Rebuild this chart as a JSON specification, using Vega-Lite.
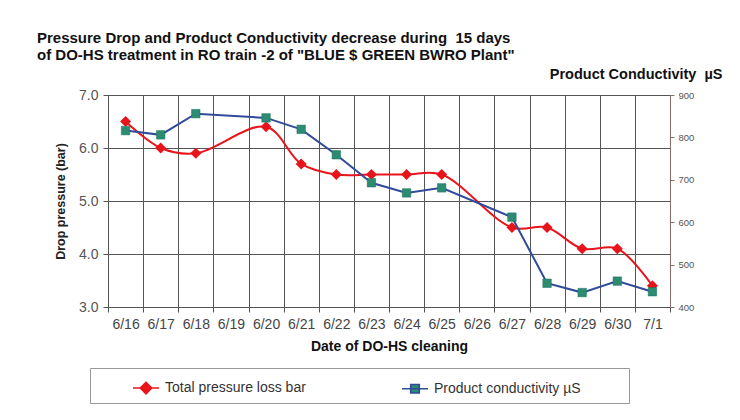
{
  "$schema": "https://vega.github.io/schema/vega-lite/v6.json",
  "width": 562,
  "height": 212,
  "autosize": "none",
  "padding": {"left": 108, "top": 95, "right": 70, "bottom": 113},
  "background": "white",
  "config": {"font": "Liberation Sans", "view": {"stroke": null}},
  "title": {
    "text": ["Pressure Drop and Product Conductivity decrease during \u00a015 days", "of DO-HS treatment in RO train -2 of \"BLUE $ GREEN BWRO Plant\""],
    "anchor": "start",
    "frame": "group",
    "dx": -71,
    "dy": 1,
    "offset": 4,
    "fontSize": 15,
    "lineHeight": 17,
    "fontWeight": "bold",
    "color": "#111"
  },
  "data": {
    "values": [
      {"date": "6/16", "series": "Total pressure loss bar", "value": 6.5},
      {"date": "6/17", "series": "Total pressure loss bar", "value": 6.0},
      {"date": "6/18", "series": "Total pressure loss bar", "value": 5.9},
      {"date": "6/20", "series": "Total pressure loss bar", "value": 6.4},
      {"date": "6/21", "series": "Total pressure loss bar", "value": 5.7},
      {"date": "6/22", "series": "Total pressure loss bar", "value": 5.5},
      {"date": "6/23", "series": "Total pressure loss bar", "value": 5.5},
      {"date": "6/24", "series": "Total pressure loss bar", "value": 5.5},
      {"date": "6/25", "series": "Total pressure loss bar", "value": 5.5},
      {"date": "6/27", "series": "Total pressure loss bar", "value": 4.5},
      {"date": "6/28", "series": "Total pressure loss bar", "value": 4.5},
      {"date": "6/29", "series": "Total pressure loss bar", "value": 4.1},
      {"date": "6/30", "series": "Total pressure loss bar", "value": 4.1},
      {"date": "7/1", "series": "Total pressure loss bar", "value": 3.4},
      {"date": "6/16", "series": "Product conductivity µS", "value": 816},
      {"date": "6/17", "series": "Product conductivity µS", "value": 806},
      {"date": "6/18", "series": "Product conductivity µS", "value": 856},
      {"date": "6/20", "series": "Product conductivity µS", "value": 846},
      {"date": "6/21", "series": "Product conductivity µS", "value": 819},
      {"date": "6/22", "series": "Product conductivity µS", "value": 759},
      {"date": "6/23", "series": "Product conductivity µS", "value": 693},
      {"date": "6/24", "series": "Product conductivity µS", "value": 669},
      {"date": "6/25", "series": "Product conductivity µS", "value": 681},
      {"date": "6/27", "series": "Product conductivity µS", "value": 612},
      {"date": "6/28", "series": "Product conductivity µS", "value": 456},
      {"date": "6/29", "series": "Product conductivity µS", "value": 434},
      {"date": "6/30", "series": "Product conductivity µS", "value": 461},
      {"date": "7/1", "series": "Product conductivity µS", "value": 436}
    ]
  },
  "encoding": {
    "x": {
      "field": "date",
      "type": "ordinal",
      "scale": {
        "type": "band",
        "domain": ["6/16", "6/17", "6/18", "6/19", "6/20", "6/21", "6/22", "6/23", "6/24", "6/25", "6/26", "6/27", "6/28", "6/29", "6/30", "7/1"],
        "paddingInner": 0,
        "paddingOuter": 0
      },
      "axis": {
        "tickBand": "extent",
        "grid": true,
        "gridColor": "#555",
        "gridWidth": 1,
        "domainColor": "#555",
        "tickColor": "#555",
        "tickSize": 5,
        "labelAngle": 0,
        "labelFontSize": 14,
        "labelColor": "#444",
        "labelPadding": 5,
        "title": "Date of DO-HS cleaning",
        "titleFontSize": 14,
        "titleFontWeight": "bold",
        "titleColor": "#111",
        "titlePadding": 8
      }
    }
  },
  "layer": [
    {
      "transform": [{"filter": "datum.series === 'Total pressure loss bar'"}],
      "encoding": {
        "y": {
          "field": "value",
          "type": "quantitative",
          "scale": {"domain": [3, 7], "nice": false, "zero": false},
          "axis": {
            "orient": "left",
            "values": [3, 4, 5, 6, 7],
            "format": ".1f",
            "grid": true,
            "gridColor": "#555",
            "domainColor": "#555",
            "tickColor": "#555",
            "tickSize": 5,
            "labelPadding": 5,
            "labelFontSize": 14,
            "labelColor": "#555",
            "title": "Drop pressure (bar)",
            "titleFontSize": 12.5,
            "titleFontWeight": "bold",
            "titleColor": "#222",
            "titlePadding": 11
          }
        }
      },
      "layer": [
        {
          "mark": {"type": "line", "interpolate": "catmull-rom", "strokeWidth": 2},
          "encoding": {
            "color": {
              "field": "series",
              "type": "nominal",
              "scale": {"domain": ["Total pressure loss bar", "Product conductivity µS"], "range": ["#e8141b", "#2f4b9a"]},
              "legend": {
                "orient": "none",
                "legendX": -18,
                "legendY": 273,
                "direction": "horizontal",
                "title": "\u00a0",
                "titleOrient": "right",
                "titlePadding": 42,
                "titleFontSize": 14,
                "strokeColor": "#999",
                "padding": 6,
                "symbolSize": 676,
                "symbolStrokeWidth": 1.6,
                "symbolOffset": 36,
                "labelOffset": 5,
                "labelFontSize": 14,
                "labelColor": "#333",
                "labelLimit": 400,
                "columnPadding": 59,
                "encode": {
                  "symbols": {
                    "update": {
                      "shape": {"signal": "datum.value === 'Total pressure loss bar' ? 'M-1,0L1,0M0,-0.44L0.44,0L0,0.44L-0.44,0Z' : 'M-1,0L1,0M-0.33,-0.33L0.33,-0.33L0.33,0.33L-0.33,0.33Z'"},
                      "fill": {"signal": "datum.value === 'Total pressure loss bar' ? '#e8141b' : '#2b8c72'"}
                    }
                  }
                }
              }
            }
          }
        },
        {
          "mark": {"type": "point", "shape": "diamond", "filled": true, "size": 120, "color": "#e8141b", "opacity": 1}
        }
      ]
    },
    {
      "transform": [{"filter": "datum.series === 'Product conductivity µS'"}],
      "encoding": {
        "y": {
          "field": "value",
          "type": "quantitative",
          "scale": {"domain": [400, 900], "nice": false, "zero": false},
          "axis": {
            "orient": "right",
            "values": [400, 500, 600, 700, 800, 900],
            "grid": false,
            "domainColor": "#8a6b6b",
            "tickColor": "#8a6b6b",
            "tickSize": 4,
            "labelPadding": 4,
            "labelFontSize": 9.5,
            "labelColor": "#555",
            "title": "Product Conductivity \u00a0µS",
            "titleAngle": 0,
            "titleAlign": "right",
            "titleBaseline": "middle",
            "titleX": 52,
            "titleY": -21,
            "titleFontSize": 14.5,
            "titleFontWeight": "bold",
            "titleColor": "#111"
          }
        }
      },
      "layer": [
        {
          "mark": {"type": "line", "strokeWidth": 2},
          "encoding": {
            "color": {"field": "series", "type": "nominal"}
          }
        },
        {
          "mark": {"type": "point", "shape": "square", "filled": true, "size": 72, "color": "#2b8c72", "stroke": "#1f6e5a", "strokeWidth": 0.5, "opacity": 1}
        }
      ]
    }
  ],
  "resolve": {"scale": {"y": "independent"}}
}
